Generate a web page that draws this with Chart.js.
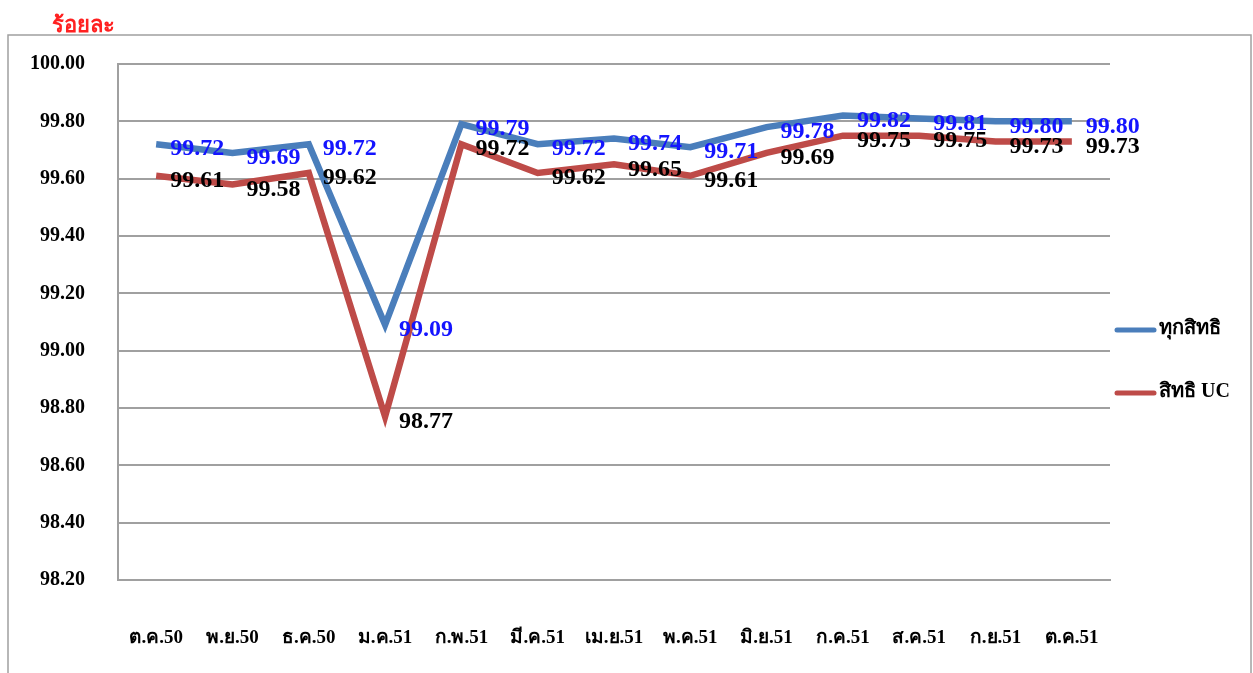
<!DOCTYPE html>
<html>
<head>
<meta charset="utf-8">
<script src="https://cdn.jsdelivr.net/npm/chart.js@4"></script>
<style>
html,body{margin:0;padding:0;background:#fff;}
#wrap{width:1253px;height:673px;position:relative;}
</style>
</head>
<body>
<div id="wrap"><canvas id="c" width="1253" height="673"></canvas></div>
<script>
const categories = ["ต.ค.50","พ.ย.50","ธ.ค.50","ม.ค.51","ก.พ.51","มี.ค.51","เม.ย.51","พ.ค.51","มิ.ย.51","ก.ค.51","ส.ค.51","ก.ย.51","ต.ค.51"];
const allRights = [99.72,99.69,99.72,99.09,99.79,99.72,99.74,99.71,99.78,99.82,99.81,99.80,99.80];
const ucRights  = [99.61,99.58,99.62,98.77,99.72,99.62,99.65,99.61,99.69,99.75,99.75,99.73,99.73];
const seriesNames = ["ทุกสิทธิ","สิทธิ UC"];
const yTitle = "ร้อยละ";
const yMin = 98.2, yMax = 100.0, yStep = 0.2;

const SERIF = '"Liberation Serif","DejaVu Serif",serif';

const decor = {
  id:'decor',
  beforeDraw(chart){
    const ctx = chart.ctx;
    ctx.save();
    ctx.fillStyle='#fff';
    ctx.fillRect(0,0,chart.width,chart.height);
    ctx.strokeStyle='#a0a0a0';
    ctx.lineWidth=1.5;
    ctx.strokeRect(8,35,1243,650);
    ctx.restore();
  },
  afterDraw(chart){
    const ctx = chart.ctx;
    ctx.save();
    ctx.fillStyle='#ff2020';
    ctx.font='bold 22px '+SERIF;
    ctx.textAlign='left';
    ctx.textBaseline='alphabetic';
    ctx.fillText(yTitle,52,32);
    const colors=['#1414ff','#000000'];
    ctx.font='bold 24px '+SERIF;
    ctx.textBaseline='middle';
    chart.data.datasets.forEach((ds,i)=>{
      const meta=chart.getDatasetMeta(i);
      ctx.fillStyle=colors[i];
      meta.data.forEach((pt,j)=>{
        ctx.fillText(ds.data[j].toFixed(2),pt.x+14,pt.y+5);
      });
    });
    const legY=[330,393];
    const legCol=['#4a7ebb','#be4b48'];
    ctx.font='bold 20px '+SERIF;
    chart.data.datasets.forEach((ds,i)=>{
      ctx.strokeStyle=legCol[i];
      ctx.lineWidth=5;
      ctx.lineCap='round';
      ctx.beginPath();
      ctx.moveTo(1117,legY[i]);ctx.lineTo(1154,legY[i]);ctx.stroke();
      ctx.fillStyle='#000';
      ctx.fillText(ds.label,1159,legY[i]-1);
    });
    ctx.restore();
  }
};

new Chart(document.getElementById('c'),{
  type:'line',
  data:{
    labels:categories,
    datasets:[
      {label:seriesNames[0],data:allRights,borderColor:'#4a7ebb',borderWidth:6.5,pointRadius:0,tension:0,fill:false,borderJoinStyle:'miter'},
      {label:seriesNames[1],data:ucRights,borderColor:'#be4b48',borderWidth:6.5,pointRadius:0,tension:0,fill:false,borderJoinStyle:'miter'}
    ]
  },
  options:{
    responsive:false,
    animation:false,
    devicePixelRatio:1,
    layout:{padding:{left:0,top:64,right:143,bottom:0}},
    plugins:{legend:{display:false},tooltip:{enabled:false},title:{display:false}},
    scales:{
      x:{
        type:'category',
        offset:true,
        grid:{display:false,drawTicks:false},
        border:{display:true,color:'#a0a0a0',width:2},
        ticks:{padding:47,color:'#000',font:{family:SERIF,size:19,weight:'bold'},maxRotation:0,autoSkip:false},
        afterFit(s){s.height=93;}
      },
      y:{
        min:yMin,max:yMax,
        grid:{color:'#a0a0a0',lineWidth:2,drawTicks:false},
        border:{display:true,color:'#a0a0a0',width:2},
        ticks:{stepSize:yStep,padding:33,color:'#000',font:{family:SERIF,size:20,weight:'bold'},callback:v=>Number(v).toFixed(2)},
        afterFit(s){s.width=118;}
      }
    }
  },
  plugins:[decor]
});
</script>
</body>
</html>
